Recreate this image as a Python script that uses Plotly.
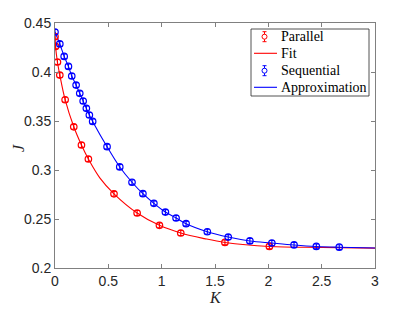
import plotly.graph_objects as go

# ---- data ----
par_K = [0.0, 0.005, 0.023, 0.045, 0.095, 0.176, 0.248, 0.313, 0.553, 0.770, 0.979, 1.179, 1.593, 2.010]
par_J = [0.4360, 0.4261, 0.4102, 0.3969, 0.3717, 0.3441, 0.3255, 0.3112, 0.2757, 0.2561, 0.2435, 0.2357, 0.2261, 0.2220]
par_err = [0.0025] * len(par_K)

fit_K = [0.0, 0.005, 0.023, 0.045, 0.095, 0.176, 0.248, 0.313, 0.42, 0.553, 0.770, 0.979, 1.179, 1.40, 1.593, 2.010, 2.5, 3.0]
fit_J = [0.4370, 0.4261, 0.4102, 0.3969, 0.3717, 0.3441, 0.3255, 0.3112, 0.2920, 0.2757, 0.2561, 0.2435, 0.2357, 0.2300, 0.2261, 0.2220, 0.2210, 0.2203]

seq_K = [0.0, 0.045, 0.086, 0.126, 0.157, 0.198, 0.232, 0.264, 0.294, 0.322, 0.353, 0.488, 0.607, 0.722, 0.824, 0.927, 1.035, 1.135, 1.229, 1.428, 1.624, 1.827, 2.033, 2.241, 2.450, 2.665]
seq_J = [0.4408, 0.4286, 0.4159, 0.4057, 0.3959, 0.3867, 0.3782, 0.3704, 0.3629, 0.3561, 0.3496, 0.3238, 0.3031, 0.2875, 0.2758, 0.2660, 0.2571, 0.2510, 0.2452, 0.2370, 0.2316, 0.2276, 0.2255, 0.2235, 0.2220, 0.2212]
seq_err = [0.0025] * len(seq_K)

app_K = seq_K + [3.0]
app_J = seq_J + [0.2204]

x_ticks = [0, 0.5, 1, 1.5, 2, 2.5, 3]
x_labels = ["0", "0.5", "1", "1.5", "2", "2.5", "3"]
y_ticks = [0.2, 0.25, 0.3, 0.35, 0.4, 0.45]
y_labels = ["0.2", "0.25", "0.3", "0.35", "0.4", "0.45"]

legend_names = ["Parallel", "Fit", "Sequential", "Approximation"]
x_title = "K"
y_title = "J"

RED = "#ff0000"
BLUE = "#0000ff"

fig = go.Figure()
fig.add_trace(go.Scatter(x=fit_K, y=fit_J, mode="lines", line=dict(color=RED, width=1.1, shape="spline"), showlegend=False))
fig.add_trace(go.Scatter(x=app_K, y=app_J, mode="lines", line=dict(color=BLUE, width=1.1, shape="spline"), showlegend=False))
fig.add_trace(go.Scatter(x=par_K, y=par_J, mode="markers",
                         marker=dict(symbol="circle-open", size=6.5, color=RED, line=dict(width=1.2)),
                         error_y=dict(type="data", array=par_err, color=RED, thickness=1.1, width=2),
                         showlegend=False))
fig.add_trace(go.Scatter(x=seq_K, y=seq_J, mode="markers",
                         marker=dict(symbol="circle-open", size=6.5, color=BLUE, line=dict(width=1.2)),
                         error_y=dict(type="data", array=seq_err, color=BLUE, thickness=1.1, width=2),
                         showlegend=False))

L, R, T, B = 55, 40, 23, 44
W, H = 415, 312
pw, ph = W - L - R, H - T - B

def px(x):
    return (x - L) / pw

def py(y):
    return (H - B - y) / ph

shapes = []
annotations = []
# legend box
shapes.append(dict(type="rect", xref="paper", yref="paper", x0=px(251), x1=px(369), y0=py(96), y1=py(29),
                   line=dict(color="#262626", width=0.8), fillcolor="white", layer="above"))
rows = [36.7, 53.3, 70.7, 87.3]
cols = [RED, RED, BLUE, BLUE]
kinds = ["err", "line", "err", "line"]
for name, yy, c, k in zip(legend_names, rows, cols, kinds):
    if k == "line":
        shapes.append(dict(type="line", xref="paper", yref="paper", x0=px(254), x1=px(277), y0=py(yy), y1=py(yy),
                           line=dict(color=c, width=1.1), layer="above"))
    else:
        xc = 264.5
        shapes.append(dict(type="line", xref="paper", yref="paper", x0=px(xc), x1=px(xc), y0=py(yy - 5), y1=py(yy + 5),
                           line=dict(color=c, width=1), layer="above"))
        for ye in (yy - 5, yy + 5):
            shapes.append(dict(type="line", xref="paper", yref="paper", x0=px(xc - 2), x1=px(xc + 2), y0=py(ye), y1=py(ye),
                               line=dict(color=c, width=1), layer="above"))
        shapes.append(dict(type="circle", xref="paper", yref="paper", x0=px(xc - 2.5), x1=px(xc + 2.5),
                           y0=py(yy + 2.5), y1=py(yy - 2.5), line=dict(color=c, width=1), fillcolor="white", layer="above"))
    annotations.append(dict(xref="paper", yref="paper", x=px(279), y=py(yy), xanchor="left", yanchor="middle",
                            text=name, showarrow=False, font=dict(family="Liberation Serif", size=14, color="black")))

# axis titles
annotations.append(dict(xref="paper", yref="paper", x=px(215), y=py(297), xanchor="center", yanchor="middle",
                        text="<i>" + x_title + "</i>", showarrow=False,
                        font=dict(family="Liberation Serif", size=16, color="#262626")))
annotations.append(dict(xref="paper", yref="paper", x=px(18), y=py(148), xanchor="center", yanchor="middle",
                        text="<i>" + y_title + "</i>", showarrow=False, textangle=-90,
                        font=dict(family="Liberation Serif", size=16, color="#262626")))

axis_common = dict(showline=True, linecolor="#808080", linewidth=1, mirror="ticks", ticks="inside",
                   ticklen=4, tickcolor="#808080", showgrid=False, zeroline=False, automargin=False,
                   tickfont=dict(family="Liberation Sans", size=14, color="#262626"))

fig.update_layout(
    width=W, height=H,
    margin=dict(l=L, r=R, t=T, b=B, autoexpand=False),
    paper_bgcolor="white", plot_bgcolor="white",
    showlegend=False,
    xaxis=dict(range=[0, 3], tickvals=x_ticks, ticktext=x_labels, **axis_common),
    yaxis=dict(range=[0.2, 0.45], tickvals=y_ticks, ticktext=y_labels, **axis_common),
    shapes=shapes,
    annotations=annotations,
)

fig.write_html("out.html", config={"displayModeBar": False},
               post_script="document.body.style.margin='0';document.body.style.padding='0';")
